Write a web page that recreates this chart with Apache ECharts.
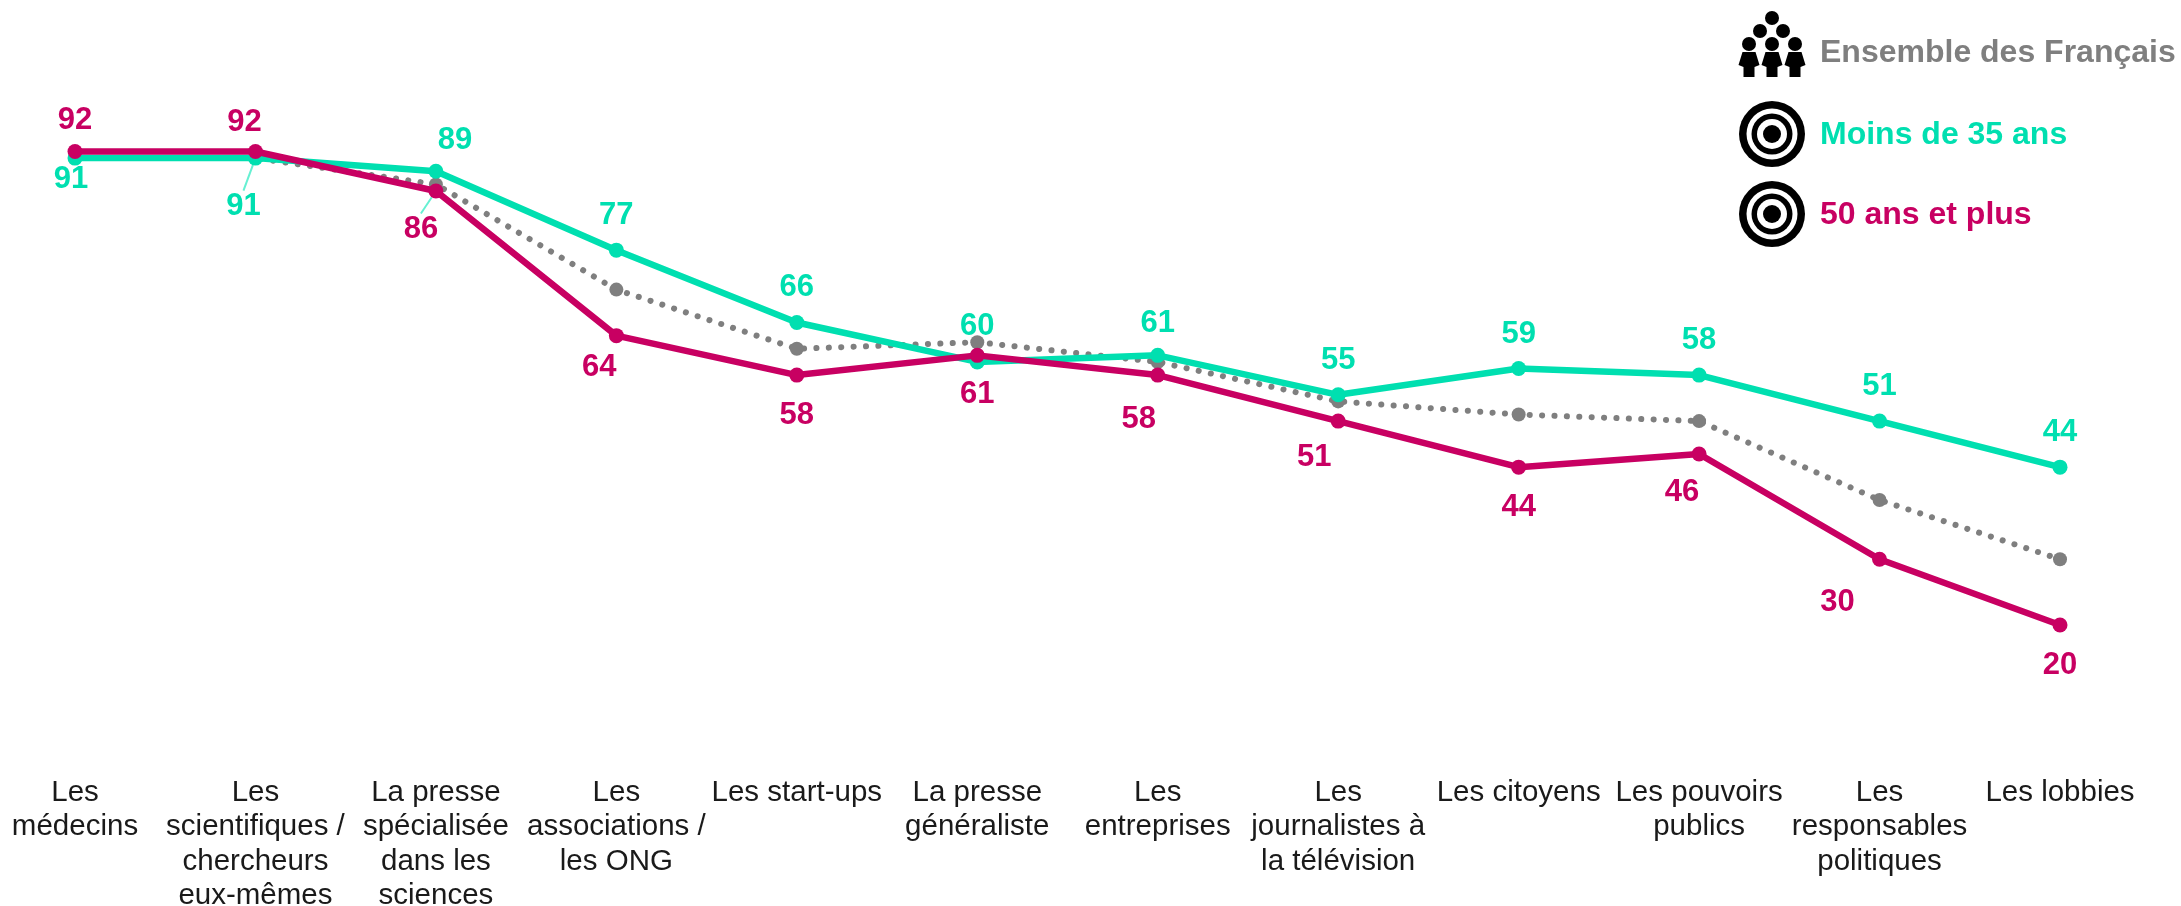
<!DOCTYPE html>
<html lang="fr">
<head>
<meta charset="utf-8">
<style>html,body{margin:0;padding:0;background:#fff}#c{width:2181px;height:906px}</style>
<script src="https://cdn.jsdelivr.net/npm/echarts@6/dist/echarts.min.js"></script>
</head>
<body>
<div id="c"></div>
<script>
const categories = ["Les\nmédecins","Les\nscientifiques /\nchercheurs\neux-mêmes","La presse\nspécialisée\ndans les\nsciences","Les\nassociations /\nles ONG","Les start-ups","La presse\ngénéraliste","Les\nentreprises","Les\njournalistes à\nla télévision","Les citoyens","Les pouvoirs\npublics","Les\nresponsables\npolitiques","Les lobbies"];
const ensemble = [91,91,87,71,62,63,60,54,52,51,39,30];
const moins35 = [91,91,89,77,66,60,61,55,59,58,51,44];
const plus50 = [92,92,86,64,58,61,58,51,44,46,30,20];
const offsetsMoins35 = [[-4,21],[-12,48],[19,-31],[0,-35],[0,-35],[0,-35],[0,-32],[0,-34],[0,-34],[0,-35],[0,-35],[0,-35]];
const offsetsPlus50 = [[0,-31],[-11,-29],[-15,38],[-17,32],[0,40],[0,39],[-19,44],[-24,36],[0,40],[-17,38],[-42,43],[0,40]];

const GREY='#7f7f7f', TEAL='#00dfb0', MAGENTA='#c80062';
const FONT='"Liberation Sans", Arial, sans-serif';

function series(name,data,color,offsets,leaders,z){
  return {
    name,type:'line',z,
    data:data.map((v,i)=>leaders.includes(i)?{value:v,labelLine:{show:true}}:v),
    symbol:'circle',symbolSize:15,showSymbol:true,
    lineStyle:{color,width:6.5},
    itemStyle:{color},
    label:{show:true,position:'inside',color,fontFamily:FONT,fontWeight:'bold',fontSize:31},
    labelLine:{show:false,lineStyle:{color:'#66f0d2',width:2}},
    labelLayout:p=>({dx:offsets[p.dataIndex][0],dy:offsets[p.dataIndex][1]}),
    emphasis:{disabled:true},animation:false
  };
}

function legendItems(){
  const items=[];
  const txt=(t,y,c)=>({type:'text',left:1820,top:y-18,style:{text:t,fill:c,font:'bold 32px '+FONT}});
  items.push(txt('Ensemble des Français',55,GREY));
  items.push(txt('Moins de 35 ans',137,TEAL));
  items.push(txt('50 ans et plus',217,MAGENTA));
  [[1772,18],[1760,31],[1783,31],[1749,44],[1772,44],[1795,44]].forEach(h=>items.push({type:'circle',shape:{cx:h[0],cy:h[1],r:7},style:{fill:'#000'}}));
  [1749,1772,1795].forEach(x=>items.push({type:'polygon',shape:{points:[[x-6.5,52],[x+6.5,52],[x+10.5,65],[x+5.5,67],[x+5.5,77],[x-5.5,77],[x-5.5,67],[x-10.5,65]]},style:{fill:'#000'}}));
  [134,214].forEach(cy=>{
    [[33,'#000'],[25.5,'#fff'],[20.5,'#000'],[15,'#fff'],[9,'#000']].forEach(r=>items.push({type:'circle',shape:{cx:1772,cy,r:r[0]},style:{fill:r[1]}}));
  });
  return items;
}

const chart=echarts.init(document.getElementById('c'),null,{renderer:'canvas'});
chart.setOption({
  animation:false,backgroundColor:'#fff',
  grid:{left:75,right:121,top:98.9,bottom:149.5,containLabel:false,outerBoundsMode:'none'},
  xAxis:{type:'category',boundaryGap:false,data:categories,
    axisLine:{show:false},axisTick:{show:false},splitLine:{show:false},
    axisLabel:{interval:0,margin:19,hideOverlap:false,color:'#1a1a1a',fontFamily:FONT,fontSize:29.5,lineHeight:34.5,verticalAlign:'top',align:'center'}},
  yAxis:{type:'value',min:0,max:100,interval:20,show:false},
  series:[
    {name:'Ensemble des Français',type:'line',z:2,data:ensemble,symbol:'circle',symbolSize:14,
      lineStyle:{color:GREY,width:6,type:[0.1,12.3],cap:'round'},itemStyle:{color:GREY},label:{show:false},emphasis:{disabled:true}},
    series('Moins de 35 ans',moins35,TEAL,offsetsMoins35,[1],3),
    series('50 ans et plus',plus50,MAGENTA,offsetsPlus50,[2],4)
  ],
  graphic:legendItems()
});
</script>
</body>
</html>
